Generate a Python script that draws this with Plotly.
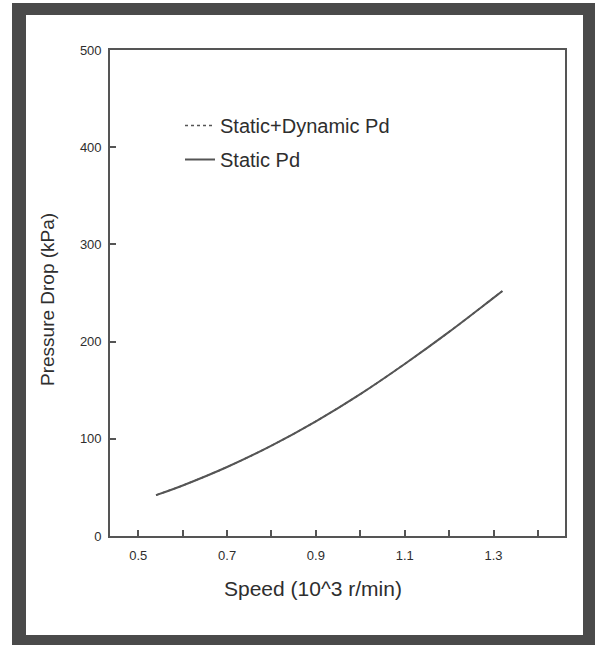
import plotly.graph_objects as go

# ---- data ----
speed = [0.54, 0.60, 0.70, 0.80, 0.90, 1.00, 1.10, 1.20, 1.30, 1.32]
static_pd = [42, 52, 71, 93, 118, 146, 177, 210, 245, 252]
static_dyn_pd = [42, 52, 71, 93, 118, 146, 177, 210, 245, 252]
x_tickvals = [0.5, 0.6, 0.7, 0.8, 0.9, 1.0, 1.1, 1.2, 1.3, 1.4]
x_ticktext = ["0.5", "", "0.7", "", "0.9", "", "1.1", "", "1.3", ""]
y_tickvals = [0, 100, 200, 300, 400, 500]

W, H = 595, 645
L, R, T, B = 110, 565, 50, 536
FONT = "Liberation Sans, Arial, sans-serif"
TXT = "#2e2e2e"
LINE = "#555555"


def px(xp):
    return (xp - L) / (R - L)


def py(yp):
    return (B - yp) / (B - T)


fig = go.Figure()
fig.add_trace(go.Scatter(
    x=speed, y=static_dyn_pd, mode="lines", name="Static+Dynamic Pd",
    line=dict(color=LINE, width=1.6, dash="dot", shape="spline", smoothing=1.0),
    legendgroup="a"))
fig.add_trace(go.Scatter(
    x=speed, y=static_pd, mode="lines", name="Static Pd",
    line=dict(color=LINE, width=2, shape="spline", smoothing=1.0),
    legendgroup="b"))

shapes = [
    dict(type="rect", xref="paper", yref="paper", layer="below",
         x0=px(12), x1=px(W + 5), y0=py(3), y1=py(H + 5),
         fillcolor="#4a4a4a", line=dict(width=0)),
    dict(type="rect", xref="paper", yref="paper", layer="below",
         x0=px(26), x1=px(583), y0=py(15), y1=py(635),
         fillcolor="white", line=dict(width=0)),
]

annotations = [
    dict(text="Speed (10^3 r/min)", xref="paper", yref="paper",
         x=px(313), y=py(588), showarrow=False, xanchor="center", yanchor="middle",
         font=dict(family=FONT, size=21, color=TXT)),
    dict(text="Pressure Drop (kPa)", xref="paper", yref="paper",
         x=px(47), y=py(300), showarrow=False, xanchor="center", yanchor="middle",
         textangle=-90, font=dict(family=FONT, size=19, color=TXT)),
]

fig.update_layout(
    width=W, height=H,
    margin=dict(l=L, r=W - R, t=T, b=H - B),
    paper_bgcolor="white", plot_bgcolor="white",
    shapes=shapes, annotations=annotations,
    showlegend=True,
    legend=dict(x=px(180), y=py(106), xanchor="left", yanchor="top",
                bgcolor="rgba(0,0,0,0)", font=dict(family=FONT, size=20, color=TXT),
                tracegroupgap=5, traceorder="grouped"),
    xaxis=dict(range=[0.4363, 1.461], tickvals=x_tickvals, ticktext=x_ticktext,
               ticks="inside", ticklen=6, tickwidth=1.5, tickcolor=LINE,
               showline=True, linecolor=LINE, linewidth=1.6, mirror=True,
               showgrid=False, zeroline=False, ticklabelstandoff=7,
               tickfont=dict(family=FONT, size=13, color=TXT)),
    yaxis=dict(range=[0, 500], tickvals=y_tickvals,
               ticks="inside", ticklen=6, tickwidth=1.5, tickcolor=LINE,
               showline=True, linecolor=LINE, linewidth=1.6, mirror=True,
               showgrid=False, zeroline=False, ticklabelstandoff=4,
               tickfont=dict(family=FONT, size=13, color=TXT)),
)

fig.write_html("out.html")
